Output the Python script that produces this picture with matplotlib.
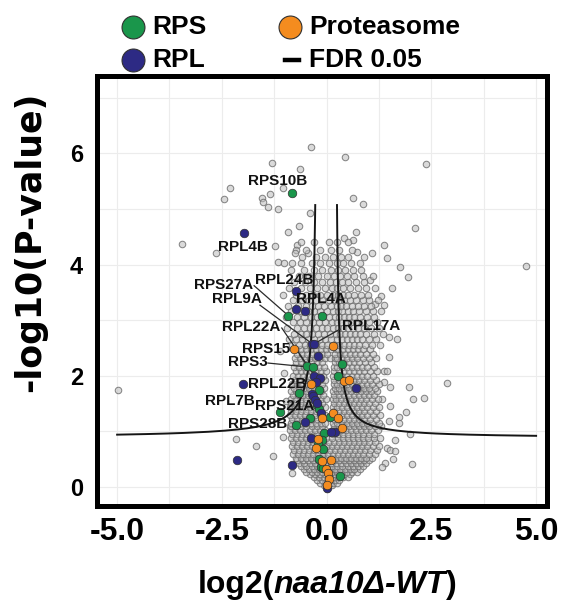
import numpy as np
import matplotlib
matplotlib.use("Agg")
import matplotlib.pyplot as plt
from matplotlib import font_manager
from matplotlib.lines import Line2D

# ------------------------------------------------------------------ data
# sparse background proteins (log2 FC, -log10 p)
bg_sparse = [(-0.38, 6.12), (-1.30, 5.83), (0.44, 5.93), (2.37, 5.80), (-0.63, 5.72),
             (-2.30, 5.37), (-2.46, 5.17), (-1.54, 5.19), (-1.35, 5.27), (-1.53, 5.12),
             (-1.39, 5.03), (-1.16, 5.00), (-1.03, 5.37), (-0.39, 4.92), (0.64, 5.19),
             (0.86, 5.09), (-0.65, 4.70), (-0.93, 4.59), (0.69, 4.59), (2.12, 4.65),
             (-3.46, 4.37), (-2.64, 4.21), (-1.22, 4.33), (-0.70, 4.35), (-0.72, 4.27),
             (-0.75, 4.20), (-0.44, 4.20), (-1.16, 4.05), (-1.01, 4.03), (-0.83, 4.02),
             (0.42, 4.47), (0.62, 4.45), (1.36, 4.35), (1.08, 4.20), (0.72, 4.22),
             (1.44, 4.11), (1.75, 3.96), (1.95, 3.78), (1.56, 3.57), (1.31, 3.43),
             (1.37, 3.27), (1.16, 3.29), (1.04, 3.72), (4.76, 3.98), (1.48, 2.70),
             (1.69, 2.67), (1.48, 2.33), (1.37, 2.09), (1.44, 2.09), (1.36, 1.89),
             (1.52, 1.80), (1.97, 1.80), (2.87, 1.88), (2.07, 1.59), (2.32, 1.61),
             (1.32, 1.58), (1.52, 1.46), (1.90, 1.35), (1.73, 1.26), (1.73, 1.15),
             (1.48, 1.19), (1.98, 0.95), (1.63, 0.85), (1.45, 0.70), (1.52, 0.67),
             (1.63, 0.65), (1.58, 0.50), (2.04, 0.41), (1.40, 0.43), (1.32, 0.37),
             (-4.97, 1.74), (-2.16, 0.86), (-1.69, 0.73), (-1.27, 0.56), (-0.87, 1.09),
             (-0.83, 0.25), (-1.05, 0.90), (-0.98, 1.55), (-1.02, 2.05), (-1.12, 2.45)]

# dense core, read row by row
core_tip_y = [-0.03, 0.03, 0.08, 0.13, 0.18, 0.23, 0.28, 0.33, 0.38, 0.43, 0.48]
core_tip_x = [[0.0],
              [-0.06, 0.04, 0.12],
              [-0.15, -0.05, 0.07, 0.16, 0.25],
              [-0.22, -0.12, 0.0, 0.1, 0.2, 0.3],
              [-0.3, -0.18, -0.07, 0.05, 0.15, 0.26, 0.38, 0.5],
              [-0.4, -0.28, -0.15, -0.04, 0.09, 0.19, 0.3, 0.42, 0.55],
              [-0.48, -0.35, -0.22, -0.1, 0.02, 0.14, 0.25, 0.36, 0.48, 0.6, 0.72],
              [-0.55, -0.42, -0.3, -0.17, -0.05, 0.08, 0.2, 0.31, 0.43, 0.55, 0.66, 0.8],
              [-0.6, -0.48, -0.36, -0.24, -0.12, 0.01, 0.13, 0.25, 0.37, 0.5, 0.62, 0.74, 0.88],
              [-0.66, -0.53, -0.4, -0.28, -0.16, -0.03, 0.1, 0.22, 0.34, 0.46, 0.58, 0.7, 0.82, 0.95],
              [-0.7, -0.57, -0.45, -0.33, -0.2, -0.08, 0.05, 0.17, 0.29, 0.41, 0.53, 0.65, 0.77, 0.9, 1.02]]

core_low_y = [0.53, 0.60, 0.67, 0.74, 0.81, 0.88, 0.95, 1.02, 1.09, 1.16, 1.23, 1.30, 1.37, 1.44]
core_low_x = [[-0.74, -0.62, -0.5, -0.38, -0.26, -0.14, -0.02, 0.1, 0.22, 0.34, 0.46, 0.58, 0.7, 0.82, 0.95, 1.08],
              [-0.8, -0.68, -0.56, -0.44, -0.32, -0.2, -0.08, 0.04, 0.16, 0.28, 0.4, 0.52, 0.64, 0.76, 0.88, 1.0, 1.15],
              [-0.77, -0.65, -0.53, -0.41, -0.29, -0.17, -0.05, 0.07, 0.19, 0.31, 0.43, 0.55, 0.67, 0.79, 0.91, 1.04, 1.2],
              [-0.83, -0.71, -0.59, -0.47, -0.35, -0.23, -0.11, 0.01, 0.13, 0.25, 0.37, 0.49, 0.61, 0.73, 0.85, 0.97, 1.1, 1.25],
              [-0.8, -0.68, -0.56, -0.44, -0.32, -0.2, -0.08, 0.05, 0.18, 0.3, 0.42, 0.54, 0.66, 0.78, 0.9, 1.02, 1.16],
              [-0.85, -0.73, -0.61, -0.49, -0.37, -0.25, -0.13, -0.02, 0.14, 0.26, 0.38, 0.5, 0.62, 0.74, 0.86, 0.98, 1.12, 1.28],
              [-0.82, -0.7, -0.58, -0.46, -0.34, -0.22, -0.1, 0.16, 0.28, 0.4, 0.52, 0.64, 0.76, 0.88, 1.0, 1.14],
              [-0.87, -0.75, -0.63, -0.51, -0.39, -0.27, -0.15, -0.04, 0.15, 0.22, 0.34, 0.46, 0.58, 0.7, 0.82, 0.94, 1.07, 1.22],
              [-0.84, -0.72, -0.6, -0.48, -0.36, -0.24, -0.12, 0.17, 0.29, 0.41, 0.53, 0.65, 0.77, 0.89, 1.01, 1.15, 1.3],
              [-0.86, -0.74, -0.62, -0.5, -0.38, -0.26, -0.14, -0.03, 0.16, 0.24, 0.36, 0.48, 0.6, 0.72, 0.84, 0.96, 1.09, 1.24],
              [-0.83, -0.71, -0.59, -0.47, -0.35, -0.23, -0.11, 0.18, 0.3, 0.42, 0.54, 0.66, 0.78, 0.9, 1.03, 1.17],
              [-0.88, -0.76, -0.64, -0.52, -0.4, -0.28, -0.16, -0.04, 0.16, 0.25, 0.37, 0.49, 0.61, 0.73, 0.85, 0.97, 1.1, 1.27],
              [-0.85, -0.73, -0.61, -0.49, -0.37, -0.25, -0.13, 0.17, 0.3, 0.42, 0.54, 0.66, 0.78, 0.9, 1.03, 1.18],
              [-0.87, -0.75, -0.63, -0.51, -0.39, -0.27, -0.15, -0.03, 0.16, 0.24, 0.36, 0.48, 0.6, 0.72, 0.84, 0.96, 1.1, 1.25]]

core_mid_y = [1.51, 1.58, 1.65, 1.72, 1.79, 1.86, 1.93, 2.00, 2.08, 2.16, 2.24, 2.32, 2.40, 2.48]
core_mid_x = [[-0.84, -0.72, -0.6, -0.48, -0.36, -0.24, -0.12, 0.17, 0.29, 0.41, 0.53, 0.65, 0.77, 0.89, 1.02, 1.16],
              [-0.86, -0.74, -0.62, -0.5, -0.38, -0.26, -0.14, -0.02, 0.16, 0.23, 0.35, 0.47, 0.59, 0.71, 0.83, 0.95, 1.08, 1.22],
              [-0.8, -0.68, -0.56, -0.44, -0.32, -0.2, -0.08, 0.18, 0.29, 0.41, 0.53, 0.65, 0.77, 0.89, 1.01, 1.14],
              [-0.85, -0.73, -0.61, -0.49, -0.37, -0.25, -0.13, 0.16, 0.24, 0.35, 0.47, 0.59, 0.71, 0.83, 0.95, 1.07, 1.2],
              [-0.78, -0.66, -0.54, -0.42, -0.3, -0.18, -0.06, 0.19, 0.3, 0.42, 0.54, 0.66, 0.78, 0.9, 1.02, 1.16],
              [-0.82, -0.7, -0.58, -0.46, -0.34, -0.22, -0.1, 0.17, 0.24, 0.36, 0.48, 0.6, 0.72, 0.84, 0.96, 1.09, 1.24],
              [-0.76, -0.64, -0.52, -0.4, -0.28, -0.16, -0.04, 0.18, 0.3, 0.42, 0.54, 0.66, 0.78, 0.9, 1.03, 1.18],
              [-0.8, -0.68, -0.56, -0.44, -0.32, -0.2, -0.08, 0.16, 0.24, 0.36, 0.48, 0.6, 0.72, 0.84, 0.96, 1.1],
              [-0.74, -0.62, -0.5, -0.38, -0.26, -0.14, -0.02, 0.18, 0.3, 0.42, 0.54, 0.66, 0.78, 0.9, 1.04, 1.2],
              [-0.78, -0.66, -0.54, -0.42, -0.3, -0.18, -0.06, 0.17, 0.24, 0.36, 0.48, 0.6, 0.72, 0.84, 0.97, 1.12],
              [-0.72, -0.6, -0.48, -0.36, -0.24, -0.12, 0.19, 0.3, 0.42, 0.54, 0.66, 0.78, 0.91, 1.05],
              [-0.76, -0.64, -0.52, -0.4, -0.28, -0.16, -0.04, 0.08, 0.2, 0.25, 0.37, 0.49, 0.61, 0.73, 0.86, 1.0, 1.18],
              [-0.7, -0.58, -0.46, -0.34, -0.22, -0.1, 0.02, 0.2, 0.31, 0.43, 0.55, 0.67, 0.8, 0.94, 1.1],
              [-0.74, -0.62, -0.5, -0.38, -0.26, -0.14, -0.02, 0.1, 0.22, 0.27, 0.38, 0.5, 0.62, 0.75, 0.88, 1.03]]

core_high_y = [2.56, 2.66, 2.76, 2.86, 2.96, 3.06, 3.16, 3.26, 3.36, 3.46]
core_high_x = [[-0.82, -0.66, -0.52, -0.4, -0.25, -0.12, 0.02, 0.2, 0.3, 0.42, 0.54, 0.66, 0.78, 0.92, 1.08, 1.28],
               [-0.9, -0.72, -0.58, -0.44, -0.3, -0.16, -0.04, 0.1, 0.24, 0.36, 0.48, 0.6, 0.72, 0.85, 1.0, 1.18],
               [-0.78, -0.62, -0.48, -0.34, -0.2, -0.06, 0.08, 0.22, 0.31, 0.43, 0.55, 0.67, 0.8, 0.95, 1.12, 1.34],
               [-0.95, -0.7, -0.55, -0.4, -0.26, -0.12, 0.02, 0.16, 0.27, 0.38, 0.5, 0.62, 0.75, 0.9, 1.06, 1.25],
               [-0.8, -0.63, -0.48, -0.32, -0.18, -0.04, 0.12, 0.25, 0.35, 0.46, 0.58, 0.7, 0.84, 1.0, 1.2],
               [-0.98, -0.7, -0.55, -0.38, -0.24, 0.05, 0.2, 0.3, 0.41, 0.53, 0.66, 0.8, 0.96, 1.14],
               [-0.85, -0.62, -0.44, -0.3, -0.15, 0.0, 0.16, 0.26, 0.37, 0.5, 0.64, 0.78, 0.93, 1.1, 1.3],
               [-0.93, -0.68, -0.5, -0.36, -0.2, -0.06, 0.1, 0.24, 0.34, 0.46, 0.6, 0.74, 0.9, 1.05],
               [-0.8, -0.58, -0.42, -0.26, -0.1, 0.05, 0.2, 0.3, 0.42, 0.56, 0.7, 0.86, 1.02, 1.22],
               [-1.05, -0.72, -0.5, -0.33, -0.16, 0.0, 0.16, 0.27, 0.38, 0.52, 0.66, 0.82, 0.98]]

core_top_y = [3.57, 3.68, 3.79, 3.90, 4.02, 4.14, 4.27, 4.40]
core_top_x = [[-0.9, -0.6, -0.4, -0.22, -0.05, 0.12, 0.25, 0.4, 0.56, 0.74, 0.93, 1.15],
              [-0.78, -0.52, -0.3, -0.12, 0.08, 0.22, 0.36, 0.52, 0.7, 0.9],
              [-0.66, -0.42, -0.2, 0.0, 0.18, 0.32, 0.48, 0.66, 0.86, 1.1],
              [-0.85, -0.55, -0.3, -0.1, 0.1, 0.28, 0.44, 0.62, 0.82],
              [-0.62, -0.35, -0.15, 0.05, 0.24, 0.4, 0.58, 0.8],
              [-0.58, -0.25, -0.05, 0.15, 0.34, 0.52, 0.9],
              [-0.48, -0.15, 0.1, 0.3, 0.6],
              [-0.6, -0.3, 0.05, 0.25, 0.52]]

# highlighted groups
rps_x = [-0.82, -0.91, -0.11, 0.36, -0.46, -0.33, 0.26, -0.18, -0.67, -0.23, -0.17, -1.11,
         -0.39, 0.08, -0.74, -0.06, -0.11, -0.20, -0.08, -0.17, -0.14, -0.08, 0.31]
rps_y = [5.29, 3.08, 3.08, 2.21, 2.18, 2.15, 2.00, 1.74, 1.70, 1.47, 1.41, 1.35,
         1.24, 1.26, 1.12, 0.98, 0.85, 0.77, 0.68, 0.50, 0.37, 0.34, 0.20]

rpl_x = [-1.96, -0.74, -0.74, -0.51, -0.35, -0.31, -0.20, -0.31, -0.16, -0.25, 0.70, -2.00,
         -0.35, -0.32, -0.27, -0.24, -0.14, -0.51, 0.19, 0.11, -0.38, -2.13, -0.83, 0.00]
rpl_y = [4.57, 3.53, 3.21, 3.17, 2.58, 2.57, 2.36, 2.00, 1.97, 1.89, 1.79, 1.85,
         1.68, 1.64, 1.56, 1.52, 1.33, 1.17, 0.99, 0.99, 0.89, 0.49, 0.40, -0.02]

prot_x = [0.16, -0.77, -0.38, 0.42, 0.54, -0.11, 0.15, 0.28, 0.36, -0.20, -0.25, 0.11,
          -0.11, -0.01, 0.04, 0.06, 0.02]
prot_y = [2.54, 2.48, 1.85, 1.91, 1.92, 1.24, 1.34, 1.25, 1.06, 0.86, 0.71, 0.49,
          0.46, 0.32, 0.25, 0.14, 0.04]

# labels
label_text = ["RPS10B", "RPL4B", "RPS27A", "RPL24B", "RPL9A", "RPL4A", "RPL22A",
              "RPL17A", "RPS15", "RPS3", "RPL22B", "RPL7B", "RPS21A", "RPS28B"]
label_x = [-1.18, -2.00, -2.45, -1.01, -2.15, -0.13, -1.79, 1.06, -1.44, -1.87, -1.19,
           -2.30, -1.00, -1.65]
label_y = [5.50, 4.31, 3.63, 3.72, 3.38, 3.38, 2.87, 2.89, 2.48, 2.24, 1.85, 1.55,
           1.45, 1.14]

# leader segments
seg_x0 = [-1.73, -1.59, -1.07, 0.32, -0.63, -1.40]
seg_y0 = [3.62, 3.27, 2.86, 2.84, 2.37, 2.23]
seg_x1 = [-0.91, -0.35, -0.31, -0.31, -0.46, -0.33]
seg_y1 = [3.08, 2.58, 2.02, 2.57, 2.18, 2.15]

# FDR 0.05 threshold curve parameters
fdr_y0 = 0.88
fdr_x0 = 0.20
fdr_c_left = 0.30
fdr_c_right = 0.20
fdr_ytop = 5.07
fdr_xmax = 5.0

x_ticks = [-5.0, -2.5, 0.0, 2.5, 5.0]
y_ticks = [0, 2, 4, 6]

# ------------------------------------------------------------------ style
C_RPS = "#1a964b"
C_RPL = "#2d2a84"
C_PROT = "#f48c1f"

SANS = "Liberation Sans"

W, H = 561, 603
fig = plt.figure(figsize=(W / 100, H / 100), dpi=100)
fig.patch.set_facecolor("white")

L, R, T, B = 97, 547, 76, 506
ax = fig.add_axes([L / W, 1 - B / H, (R - L) / W, (B - T) / H])
ax.set_xlim(-5.48, 5.26)
ax.set_ylim(-0.34, 7.39)

# background points
bx = [p[0] for p in bg_sparse]
by = [p[1] for p in bg_sparse]
for ys, xs in [(core_tip_y, core_tip_x), (core_low_y, core_low_x), (core_mid_y, core_mid_x),
               (core_high_y, core_high_x), (core_top_y, core_top_x)]:
    for yv, row in zip(ys, xs):
        bx.extend(row)
        by.extend([yv] * len(row))

ax.scatter(bx, by, s=22, facecolor=(0.74, 0.74, 0.74, 0.55), edgecolor=(0.42, 0.42, 0.42, 0.8),
           linewidth=0.75, zorder=2)

# FDR curves
yy_r = np.linspace(fdr_y0 + fdr_c_right / (fdr_xmax - fdr_x0), fdr_ytop, 400)
xx_r = fdr_x0 + fdr_c_right / (yy_r - fdr_y0)
yy_l = np.linspace(fdr_y0 + fdr_c_left / (fdr_xmax - fdr_x0), fdr_ytop, 400)
xx_l = -(fdr_x0 + fdr_c_left / (yy_l - fdr_y0))
ax.plot(xx_r, yy_r, color="#151515", lw=1.4, zorder=3)
ax.plot(xx_l, yy_l, color="#151515", lw=1.4, zorder=3)

# leader lines
for a, b, c, d in zip(seg_x0, seg_y0, seg_x1, seg_y1):
    ax.plot([a, c], [b, d], color="#2a2a2a", lw=0.9, zorder=3)

# highlighted points
for xs, ys, col in [(rps_x, rps_y, C_RPS), (rpl_x, rpl_y, C_RPL), (prot_x, prot_y, C_PROT)]:
    ax.scatter(xs, ys, s=38, color=col, edgecolor="#303030", linewidth=0.5, zorder=4)

for t, x, y in zip(label_text, label_x, label_y):
    ax.text(x, y, t, ha="center", va="center", fontsize=11, fontweight="bold",
            family=SANS, color="#111111", zorder=5)

# grid / spines / ticks
ax.set_xticks(x_ticks)
ax.set_xticks([-3.75, -1.25, 1.25, 3.75], minor=True)
ax.set_yticks(y_ticks)
ax.set_yticks([1, 3, 5, 7], minor=True)
ax.grid(True, which="both", color="#ececec", lw=0.8, zorder=0)
ax.set_axisbelow(True)
for s in ax.spines.values():
    s.set_linewidth(3.6)
    s.set_color("black")
ax.tick_params(which="both", length=0)
ax.tick_params(axis="x", pad=8)
ax.tick_params(axis="y", pad=10)
ax.set_xticklabels(["-5.0", "-2.5", "0.0", "2.5", "5.0"])
ax.set_yticklabels([str(v) for v in y_ticks])
for lab in ax.get_xticklabels():
    lab.set_fontfamily(SANS); lab.set_fontweight("bold"); lab.set_fontsize(23)
for lab in ax.get_yticklabels():
    lab.set_fontfamily(SANS); lab.set_fontweight("bold"); lab.set_fontsize(17)

# y label
fig.text(30 / W, 1 - 242 / H, "-log10(P-value)", rotation=90, ha="center", va="center",
         fontsize=25, fontweight="bold", family="DejaVu Sans")

# x label with italic part
fig.canvas.draw()
renderer = fig.canvas.get_renderer()
parts = [("log2(", "normal"), ("naa10\u0394-WT", "italic"), (")", "normal")]
objs = []
widths = []
for txt, st in parts:
    t = fig.text(0, 0, txt, fontsize=23, fontweight="bold", style=st, family=SANS,
                 ha="left", va="center")
    objs.append(t)
    widths.append(t.get_window_extent(renderer).width)
total = sum(widths)
xpix = 327 - total / 2
for t, w in zip(objs, widths):
    t.set_position((xpix / W, 1 - 585 / H))
    xpix += w

# legend (manual)
leg_rows = [(133, 27, "RPS", C_RPS, "o"), (133, 60, "RPL", C_RPL, "o"),
            (290, 27, "Proteasome", C_PROT, "o"), (292, 60, "FDR 0.05", None, "-")]
for px, py, txt, col, kind in leg_rows:
    if kind == "o":
        fig.add_artist(Line2D([px / W], [1 - py / H], marker="o", ls="", ms=16.5,
                              mfc=col, mec="#303030", mew=0.8, transform=fig.transFigure))
    else:
        fig.add_artist(Line2D([(px - 7) / W, (px + 7) / W], [1 - py / H, 1 - py / H],
                              color="black", lw=3.2, transform=fig.transFigure))
    tx = 152 if px < 200 else 309
    fig.text(tx / W, 1 - py / H, txt, fontsize=19, fontweight="bold", family=SANS,
             ha="left", va="center")

fig.savefig("out.png", dpi=100, facecolor="white")
